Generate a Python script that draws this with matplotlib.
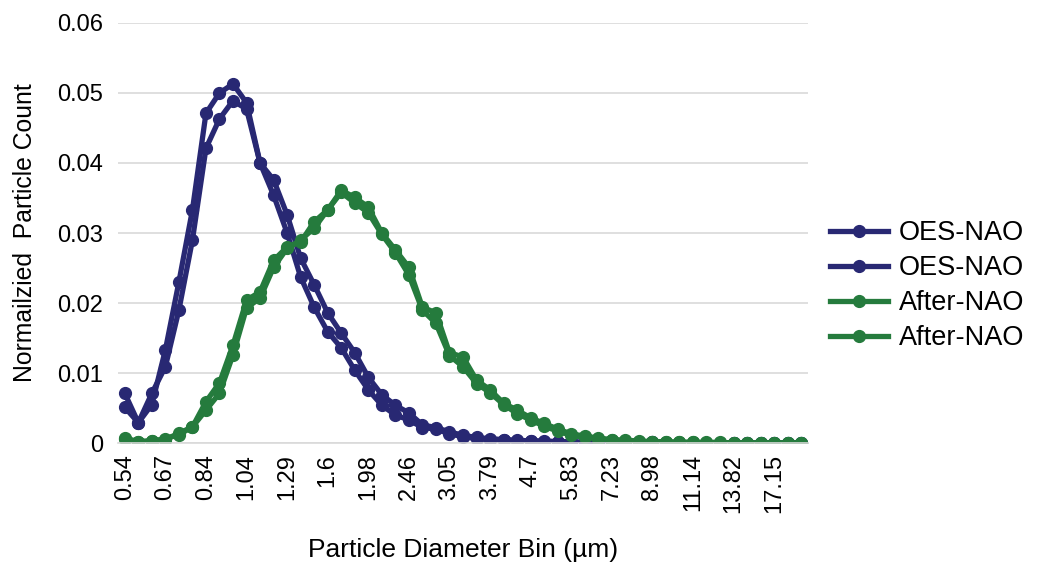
import numpy as np
import matplotlib.pyplot as plt

plt.rcParams['font.family'] = ['Liberation Sans', 'DejaVu Sans']

# particle diameter bins (um), only every third one is labelled on the axis
bins = ["0.54", "0.58", "0.62", "0.67", "0.72", "0.78", "0.84", "0.9", "0.97",
        "1.04", "1.12", "1.2", "1.29", "1.39", "1.49", "1.6", "1.72", "1.85",
        "1.98", "2.13", "2.29", "2.46", "2.64", "2.84", "3.05", "3.28", "3.53",
        "3.79", "4.07", "4.38", "4.7", "5.05", "5.43", "5.83", "6.27", "6.73",
        "7.23", "7.77", "8.36", "8.98", "9.65", "10.37", "11.14", "11.97", "12.87",
        "13.82", "14.86", "15.97", "17.15", "18.43", "19.81"]

oes_1 = [0.0051, 0.0029, 0.0055, 0.0133, 0.0230, 0.0333, 0.0471, 0.0500, 0.0513,
         0.0486, 0.0400, 0.0354, 0.0300, 0.0237, 0.0194, 0.0159, 0.0136, 0.0104,
         0.0076, 0.0054, 0.0040, 0.0033, 0.0022, 0.0020, 0.0013, 0.0009, 0.0006,
         0.0005, 0.0004, 0.0003, 0.0003, 0.0002, 0.0002, 0.0001, 0.0001, 0.0001,
         0.0001, 0.0001, 0.0001, 0.0001, 0.0000, 0.0000, 0.0000, 0.0000, 0.0000,
         0.0000, 0.0000, 0.0000, 0.0000, 0.0000, 0.0000]
oes_2 = [0.0071, 0.0029, 0.0071, 0.0109, 0.0190, 0.0290, 0.0421, 0.0463, 0.0489,
         0.0477, 0.0400, 0.0376, 0.0326, 0.0264, 0.0226, 0.0186, 0.0157, 0.0129,
         0.0094, 0.0069, 0.0054, 0.0043, 0.0026, 0.0022, 0.0016, 0.0011, 0.0008,
         0.0006, 0.0005, 0.0004, 0.0003, 0.0003, 0.0002, 0.0002, 0.0001, 0.0001,
         0.0001, 0.0001, 0.0001, 0.0001, 0.0000, 0.0000, 0.0000, 0.0000, 0.0000,
         0.0000, 0.0000, 0.0000, 0.0000, 0.0000, 0.0000]
after_1 = [0.0007, 0.0002, 0.0003, 0.0005, 0.0014, 0.0023, 0.0059, 0.0086, 0.0140,
           0.0204, 0.0216, 0.0261, 0.0280, 0.0287, 0.0316, 0.0333, 0.0361, 0.0351,
           0.0337, 0.0300, 0.0276, 0.0251, 0.0194, 0.0186, 0.0129, 0.0123, 0.0090,
           0.0076, 0.0057, 0.0047, 0.0036, 0.0028, 0.0020, 0.0013, 0.0010, 0.0007,
           0.0005, 0.0004, 0.0003, 0.0002, 0.0002, 0.0001, 0.0001, 0.0001, 0.0001,
           0.0000, 0.0000, 0.0000, 0.0000, 0.0000, 0.0000]
after_2 = [0.0006, 0.0002, 0.0003, 0.0006, 0.0012, 0.0023, 0.0047, 0.0071, 0.0126,
           0.0193, 0.0207, 0.0251, 0.0278, 0.0290, 0.0307, 0.0333, 0.0358, 0.0343,
           0.0329, 0.0298, 0.0272, 0.0240, 0.0190, 0.0171, 0.0125, 0.0109, 0.0085,
           0.0072, 0.0055, 0.0042, 0.0033, 0.0024, 0.0017, 0.0011, 0.0008, 0.0006,
           0.0004, 0.0003, 0.0002, 0.0002, 0.0001, 0.0001, 0.0001, 0.0000, 0.0000,
           0.0000, 0.0000, 0.0000, 0.0000, 0.0000, 0.0000]

blue = "#282873"
green = "#257b3d"

fig = plt.figure(figsize=(10.39, 5.69), dpi=100)
ax = fig.add_axes([0.1136, 0.2214, 0.664, 0.7382])

x = np.arange(len(bins))
style = dict(lw=3.8, marker='o', ms=8.5)
ax.plot(x, oes_1, color=blue, label="OES-NAO", **style)
ax.plot(x, oes_2, color=blue, label="OES-NAO", **style)
ax.plot(x, after_1, color=green, label="After-NAO", **style)
ax.plot(x, after_2, color=green, label="After-NAO", **style)

ax.set_xlim(-0.5, len(bins) - 0.5)
ax.set_ylim(0, 0.06)
ax.set_yticks(np.arange(0, 0.061, 0.01))
ax.set_yticklabels(["0", "0.01", "0.02", "0.03", "0.04", "0.05", "0.06"])
ax.set_xticks(x[::3])
ax.set_xticklabels(bins[::3], rotation=90)
ax.tick_params(length=0, labelsize=17, colors="#000000")
ax.tick_params(axis='y', pad=10.5)
ax.tick_params(axis='x', pad=8)
ax.yaxis.grid(True, color="#d9d9d9", lw=1.2)
ax.set_axisbelow(True)
for s in ["top", "right", "left"]:
    ax.spines[s].set_visible(False)
ax.spines["bottom"].set_color("#d9d9d9")
ax.spines["bottom"].set_linewidth(1.2)

ax.set_xlabel("Particle Diameter Bin (µm)", fontsize=19, labelpad=18)
ax.set_ylabel("Normailzied  Particle Count", fontsize=17.8, labelpad=15)

fig.legend(loc="center left", bbox_to_anchor=(0.775, 0.498), frameon=False,
           fontsize=19.5, handlelength=2.15, labelspacing=0.33, handletextpad=0.4)

fig.savefig("out.png", dpi=100)
